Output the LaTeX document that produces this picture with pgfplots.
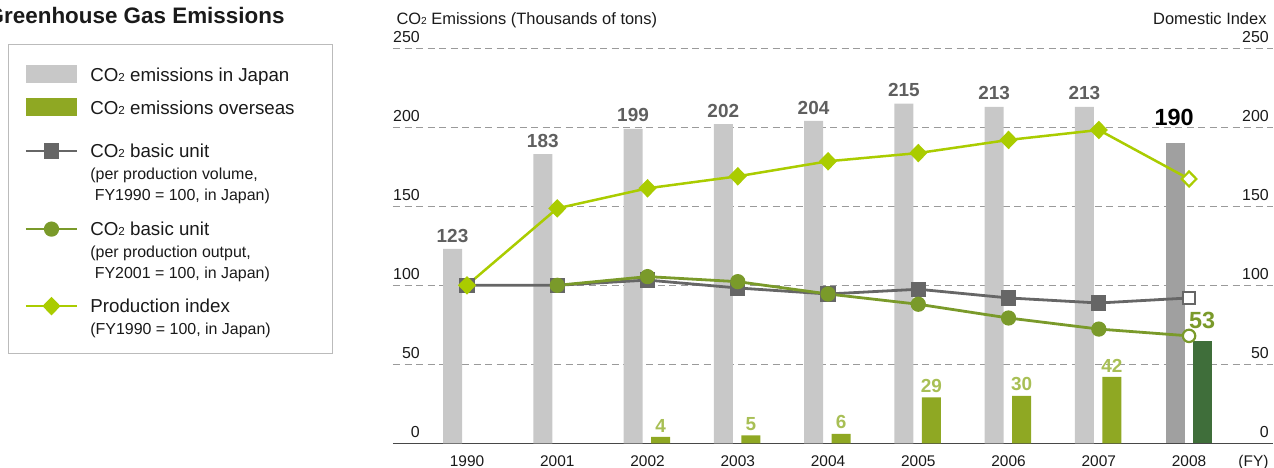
\documentclass[border=0pt]{standalone}
\usepackage{pgfplots}
\pgfplotsset{compat=1.18}
\usepackage{fontspec}
\setmainfont{Liberation Sans}

\definecolor{japan}{HTML}{C8C8C8}
\definecolor{japanlast}{HTML}{A0A0A0}
\definecolor{japanlbl}{HTML}{5F5F5F}
\definecolor{overseas}{HTML}{8FA823}
\definecolor{overseaslast}{HTML}{3F6E3A}
\definecolor{overseaslbl}{HTML}{A8BF55}
\definecolor{unitvol}{HTML}{666666}
\definecolor{unitout}{HTML}{7A9A2A}
\definecolor{prodidx}{HTML}{AACC00}
\definecolor{gridc}{HTML}{9A9A9A}
\definecolor{legendc}{HTML}{BBBBBB}
\definecolor{txt}{HTML}{1A1A1A}

\newcommand\two{\scalebox{0.62}{2}}
\newcommand\fs[1]{\fontsize{#1}{#1}\selectfont}
\newcommand\lgsub{\fontsize{16}{21.5}\selectfont}
% legend text: depth #1 sets the gap to the next row
\newcommand\lgent[2]{\makebox[226bp][l]{\rule[-#1]{0pt}{\dimexpr20bp+#1\relax}\raisebox{0pt}[\height][0pt]{\lgsub\begin{tabular}[t]{@{}l@{}}#2\end{tabular}}}}

\pgfplotsset{
  lineleg/.style={legend image code/.code={\draw[##1, mark indices={2}] plot coordinates {(0bp,6.5bp) (25.5bp,6.5bp) (51bp,6.5bp)};}},
  barleg/.style={legend image code/.code={\fill[#1] (0bp,-1.5bp) rectangle (51bp,16.5bp);}},
}

\begin{document}
\begin{tikzpicture}[x=1bp,y=1bp]
\begin{axis}[
    at={(393bp,24.7bp)}, anchor=south west,
    scale only axis, width=880bp, height=395bp,
    xmin=-0.82, xmax=8.93, ymin=0, ymax=250,
    clip=false,
    axis x line*=bottom, axis y line*=left,
    y axis line style={draw=none},
    x axis line style={draw=txt!80, line width=1.4bp},
    major tick length=0pt,
    xtick={0,...,8},
    xticklabels={1990,2001,2002,2003,2004,2005,2006,2007,2008},
    ytick={0,50,...,250},
    ymajorgrids,
    grid style={gridc, line width=1.1bp, dash pattern=on 7bp off 4.5bp},
    tick label style={font=\fs{16}, text=txt, inner sep=0pt},
    /pgf/number format/assume math mode=true,
    xticklabel style={anchor=base, yshift=-23bp, font=\fs{15.5}},
    yticklabel style={anchor=base east, xshift=27bp, yshift=5.5bp},
    legend style={at={(-0.4375,1.0109)}, anchor=north west,
      draw=legendc, line width=1.2bp,
      inner xsep=16bp, inner ysep=17bp,
      column sep=12bp, row sep=0pt,
      cells={anchor=base west},
      nodes={inner sep=0pt, text depth=},
      font=\fs{18.8}, text=txt},
    ]
% CO2 emissions in Japan
\addplot[ybar, bar width=19bp, bar shift=-14.5bp, fill=japan, draw=none,
    nodes near coords,
    nodes near coords style={font=\bfseries\fs{19}, text=japanlbl, inner sep=0pt, xshift=-14.5bp, yshift=6.5bp},
    barleg=japan]
    coordinates {(0,123) (1,183) (2,199) (3,202) (4,204) (5,215) (6,213) (7,213)};
\addlegendentry{\lgent{13bp}{\fs{18.8}CO\two\ emissions in Japan}}
\addplot[forget plot, ybar, bar width=19bp, bar shift=-14bp, fill=japanlast, draw=none,
    nodes near coords,
    nodes near coords style={font=\bfseries\fs{23.5}, text=black, inner sep=0pt, xshift=-15bp, yshift=17.5bp}]
    coordinates {(8,190)};
% CO2 emissions overseas
\addplot[ybar, bar width=19bp, bar shift=13bp, fill=overseas, draw=none,
    nodes near coords,
    nodes near coords style={font=\bfseries\fs{19}, text=overseaslbl, inner sep=0pt, xshift=13bp, yshift=4.5bp},
    barleg=overseas]
    coordinates {(2,4) (3,5) (4,6) (5,29) (6,30) (7,42)};
\addlegendentry{\lgent{23bp}{\fs{18.8}CO\two\ emissions overseas}}
\addplot[forget plot, ybar, bar width=19bp, bar shift=13bp, fill=overseaslast, draw=none,
    point meta=explicit symbolic,
    nodes near coords,
    nodes near coords style={font=\bfseries\fs{23.5}, text=unitout, inner sep=0pt, xshift=13bp, yshift=11.5bp}]
    coordinates {(8,65) [53]};
% CO2 basic unit per production volume
\addplot[unitvol, line width=2.8bp, mark=square*, mark size=6.2bp,
    mark indices={1,2,3,4,5,6,7,8}, lineleg]
    coordinates {(0,100) (1,100) (2,103.3) (3,98.3) (4,94.5) (5,97.5) (6,92) (7,88.8) (8,92)};
\addlegendentry{\lgent{58bp}{\fs{18.8}CO\two\ basic unit\\(per production volume,\\\ FY1990 = 100, in Japan)}}
\addplot[forget plot, only marks, mark=square*, mark size=6.2bp,
    mark options={fill=white, draw=unitvol, line width=2.2bp}]
    coordinates {(8,92)};
% CO2 basic unit per production output
\addplot[unitout, line width=2.8bp, mark=*, mark size=6.2bp,
    mark indices={1,2,3,4,5,6,7}, lineleg]
    coordinates {(1,100) (2,105.5) (3,102.3) (4,94.5) (5,88) (6,79.3) (7,72.3) (8,68)};
\addlegendentry{\lgent{57bp}{\fs{18.8}CO\two\ basic unit\\(per production output,\\\ FY2001 = 100, in Japan)}}
\addplot[forget plot, only marks, mark=*, mark size=6.2bp,
    mark options={fill=white, draw=unitout, line width=2.2bp}]
    coordinates {(8,68)};
% Production index
\addplot[prodidx, line width=2.5bp, mark=diamond*, mark size=7.5bp,
    mark options={xscale=1.3},
    mark indices={1,2,3,4,5,6,7,8}, lineleg]
    coordinates {(0,100) (1,148.7) (2,161.4) (3,169) (4,178.5) (5,183.7) (6,192) (7,198.3) (8,167.3)};
\addlegendentry{\lgent{24bp}{\fs{18.8}Production index\\(FY1990 = 100, in Japan)}}
\addplot[forget plot, only marks, mark=diamond*, mark size=7.5bp,
    mark options={xscale=1.3, fill=white, draw=prodidx, line width=2.2bp}]
    coordinates {(8,167.3)};

\node[anchor=base west, font=\fs{16.5}, text=txt, yshift=23.6bp] at (rel axis cs:0,1) {CO\two\ Emissions (Thousands of tons)};
\node[anchor=base east, font=\fs{15.5}, text=txt, yshift=-23bp, xshift=-1bp] at (rel axis cs:1,0) {(FY)};
\end{axis}

% right-hand scale: Domestic Index
\begin{axis}[
    at={(393bp,24.7bp)}, anchor=south west,
    scale only axis, width=880bp, height=395bp,
    xmin=-0.82, xmax=8.93, ymin=0, ymax=250,
    clip=false,
    axis x line=none, axis y line*=right,
    y axis line style={draw=none},
    major tick length=0pt,
    ytick={0,50,...,250},
    tick label style={font=\fs{16}, text=txt, inner sep=0pt},
    /pgf/number format/assume math mode=true,
    yticklabel style={anchor=base east, xshift=-4bp, yshift=5.5bp},
    ]
\node[anchor=base east, font=\fs{16.5}, text=txt, xshift=-3bp, yshift=23.6bp] at (rel axis cs:1,1) {Domestic Index};
\end{axis}

\node[anchor=base east, font=\bfseries\fs{22.5}, text=txt] at (288bp,444bp) {Greenhouse Gas Emissions};
\pgfresetboundingbox
\path[use as bounding box] (0bp,0bp) rectangle (1274bp,468bp);
\end{tikzpicture}
\end{document}
